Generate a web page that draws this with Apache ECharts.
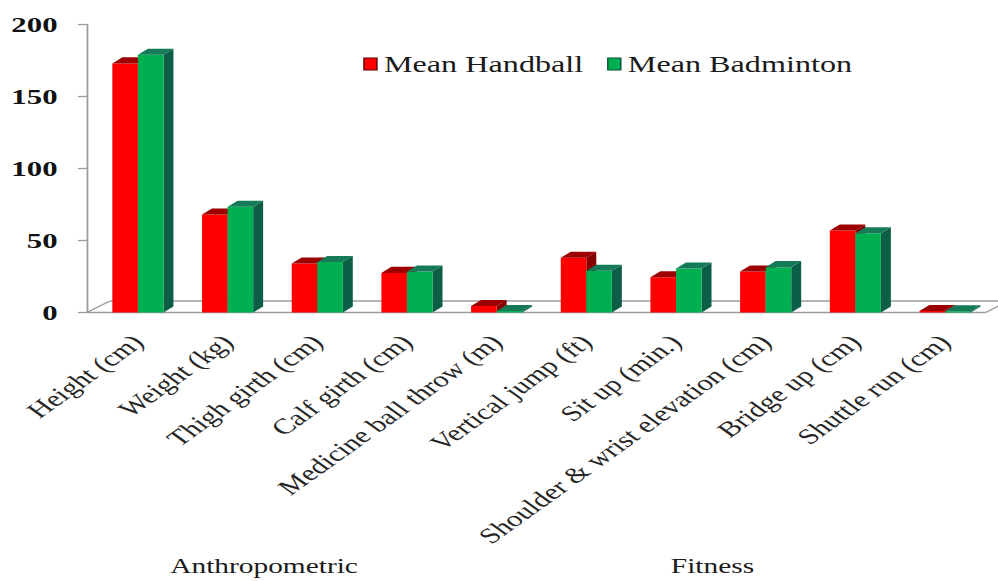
<!DOCTYPE html>
<html>
<head>
<meta charset="utf-8">
<title>Mean Handball vs Mean Badminton</title>
<script src="https://cdn.jsdelivr.net/npm/echarts@6/dist/echarts.min.js"></script>
<style>
  html, body { margin: 0; padding: 0; background: #ffffff; overflow: hidden; }
  /* The chart is laid out on a narrower canvas and stretched horizontally. */
  #chart { width: 713px; height: 581px; transform: scaleX(1.3997); transform-origin: 0 0; }
</style>
</head>
<body>
<div id="chart"></div>
<script>
// ---- data ----
const categories = [
  'Height (cm)', 'Weight (kg)', 'Thigh girth (cm)', 'Calf girth (cm)',
  'Medicine ball throw (m)', 'Vertical jump (ft)', 'Sit up (min.)',
  'Shoulder & wrist elevation (cm)', 'Bridge up (cm)', 'Shuttle run (cm)'
];
const meanHandball  = [173, 68, 34, 27.5, 4.5, 38, 24.5, 28.5, 57, 1];
const meanBadminton = [179, 73.5, 35, 28.5, 1, 29, 30.5, 31.5, 55, 0.8];
const seriesNames = ['Mean Handball', 'Mean Badminton'];
const yTicks = [0, 50, 100, 150, 200];
const groups = [
  { name: 'Anthropometric', first: 0, last: 3 },
  { name: 'Fitness', first: 4, last: 9 }
];

// ---- style ----
const FONT = "'Liberation Serif', 'Times New Roman', serif";
const AXIS_GRAY = '#9c9c9c';
const Y_AXIS_OFFSET = 4.4;          // y axis sits a little left of the first band
const BAR_RATIO = 0.285;            // bar width as a share of a category band
const BAR_DEPTH = [0.39, -0.33];    // bar depth offset, in bar widths
const FLOOR_DEPTH = [16.4, -11.5];  // floor depth offset, px
const palettes = [
  { front: '#ff0000', top: '#9c0000', side: '#860000', legendBorder: '#5a0000' },
  { front: '#00b050', top: '#157a58', side: '#0c5e47', legendBorder: '#0b4a3a' }
];

const chart = echarts.init(document.getElementById('chart'), null, { renderer: 'svg' });

function bar3D(sideIndex) {
  const pal = palettes[sideIndex];
  return function (params, api) {
    const ci = api.value(0);
    const v = api.value(1);
    const base = api.coord([ci, 0]);
    const top = api.coord([ci, v]);
    const band = api.size([1, 0])[0];
    const w = band * BAR_RATIO;
    const dx = w * BAR_DEPTH[0];
    const dy = w * BAR_DEPTH[1];
    const x0 = sideIndex === 0 ? base[0] - w : base[0];
    const x1 = x0 + w;
    const ty = top[1];
    const by = base[1];
    return {
      type: 'group',
      children: [
        {
          type: 'polygon',
          shape: { points: [[x1, ty], [x1 + dx, ty + dy], [x1 + dx, by + dy], [x1, by]] },
          style: { fill: pal.side }
        },
        {
          type: 'rect',
          shape: { x: x0, y: ty, width: w, height: by - ty },
          style: { fill: pal.front }
        },
        {
          type: 'polygon',
          shape: { points: [[x0, ty], [x1, ty], [x1 + dx, ty + dy], [x0 + dx, ty + dy]] },
          style: { fill: pal.top }
        }
      ]
    };
  };
}

// Floor of the 3D plot: front edge, back edge and the two side edges.
function floor(params, api) {
  const cs = params.coordSys;
  const by = api.coord([0, 0])[1];
  const left = cs.x - Y_AXIS_OFFSET;
  const right = cs.x + cs.width - 3;
  const [fdx, fdy] = FLOOR_DEPTH;
  const style = { stroke: AXIS_GRAY, lineWidth: 1.3, fill: null };
  return {
    type: 'group',
    children: [
      { type: 'line', shape: { x1: left, y1: by, x2: right, y2: by }, style },
      { type: 'line', shape: { x1: left + fdx, y1: by + fdy, x2: right + fdx, y2: by + fdy }, style },
      { type: 'line', shape: { x1: left, y1: by, x2: left + fdx, y2: by + fdy }, style },
      { type: 'line', shape: { x1: right, y1: by, x2: right + fdx, y2: by + fdy }, style }
    ]
  };
}

const option = {
  animation: false,
  backgroundColor: '#ffffff',
  grid: { left: 66.5, right: 5.8, top: 24.5, bottom: 268.5, containLabel: false },
  legend: {
    left: 254.5,
    top: 47,
    icon: 'rect',
    itemWidth: 9.3,
    itemHeight: 12,
    itemGap: 17,
    textStyle: { fontFamily: FONT, fontSize: 23, color: '#1a1a1a', lineHeight: 24 },
    data: seriesNames.map((name, i) => ({
      name,
      itemStyle: { color: palettes[i].front, borderColor: palettes[i].legendBorder, borderWidth: 1 }
    }))
  },
  xAxis: {
    type: 'category',
    data: categories,
    axisLine: { show: false },
    axisTick: { show: false },
    axisLabel: {
      interval: 0,
      rotate: 45,
      margin: 26,
      fontFamily: FONT,
      fontSize: 22,
      color: '#262626'
    }
  },
  yAxis: {
    type: 'value',
    min: yTicks[0],
    max: yTicks[yTicks.length - 1],
    interval: yTicks[1] - yTicks[0],
    offset: Y_AXIS_OFFSET,
    axisLine: { show: true, lineStyle: { color: AXIS_GRAY, width: 1.3 } },
    axisTick: { show: true, length: 6.4, lineStyle: { color: AXIS_GRAY, width: 1.3 } },
    splitLine: { show: false },
    axisLabel: {
      margin: 21,
      fontFamily: FONT,
      fontSize: 22,
      fontWeight: 'bold',
      color: '#111111'
    }
  },
  series: [
    {
      type: 'custom',
      name: 'floor',
      renderItem: floor,
      data: [[0, 0]],
      silent: true,
      z: 1
    },
    {
      type: 'custom',
      name: seriesNames[0],
      color: palettes[0].front,
      renderItem: bar3D(0),
      encode: { x: 0, y: 1 },
      data: meanHandball.map((v, i) => [i, v]),
      z: 2
    },
    {
      type: 'custom',
      name: seriesNames[1],
      color: palettes[1].front,
      renderItem: bar3D(1),
      encode: { x: 0, y: 1 },
      data: meanBadminton.map((v, i) => [i, v]),
      z: 3
    }
  ]
};

chart.setOption(option);

// Group captions centred under their runs of categories.
const GROUP_SHIFT = -6;
chart.setOption({
  graphic: groups.map(g => {
    const a = chart.convertToPixel({ xAxisIndex: 0 }, g.first);
    const b = chart.convertToPixel({ xAxisIndex: 0 }, g.last);
    return {
      type: 'text',
      x: (a + b) / 2 + GROUP_SHIFT,
      y: 566,
      style: {
        text: g.name,
        fontFamily: FONT,
        fontSize: 21,
        fill: '#1a1a1a',
        textAlign: 'center',
        textVerticalAlign: 'middle'
      }
    };
  })
});
</script>
</body>
</html>
